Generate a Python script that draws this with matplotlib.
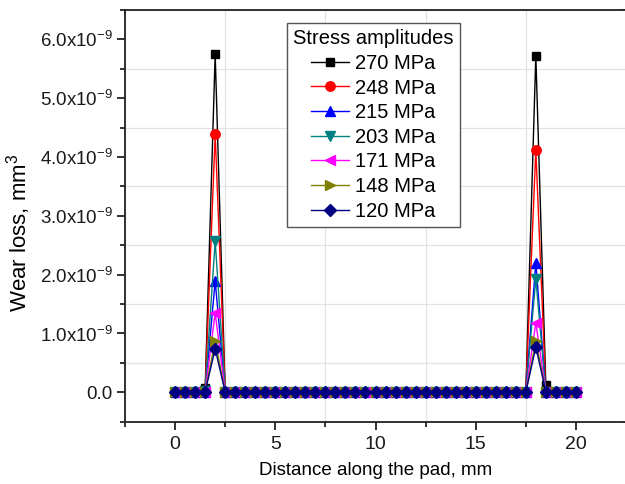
import matplotlib
matplotlib.use("Agg")
import matplotlib.pyplot as plt
from matplotlib.ticker import FixedLocator, FuncFormatter, NullFormatter

plt.rcParams['font.family'] = ['Liberation Sans', 'DejaVu Sans']
plt.rcParams['mathtext.fontset'] = 'custom'
plt.rcParams['mathtext.rm'] = 'Liberation Sans'
plt.rcParams['mathtext.it'] = 'Liberation Sans:italic'
plt.rcParams['mathtext.bf'] = 'Liberation Sans:bold'

# Distance along the pad, mm
distance = [0, 0.5, 1.0, 1.5, 2.0, 2.5, 3.0, 3.5, 4.0, 4.5,
            5.0, 5.5, 6.0, 6.5, 7.0, 7.5, 8.0, 8.5, 9.0, 9.5,
            10.0, 10.5, 11.0, 11.5, 12.0, 12.5, 13.0, 13.5, 14.0, 14.5,
            15.0, 15.5, 16.0, 16.5, 17.0, 17.5, 18.0, 18.5, 19.0, 19.5,
            20.0]

# Wear loss in units of 1e-9 mm^3
wear_270 = [0, 0, 0, 0.07, 5.75, 0, 0, 0, 0, 0,
            0, 0, 0, 0, 0, 0, 0, 0, 0, 0,
            0, 0, 0, 0, 0, 0, 0, 0, 0, 0,
            0, 0, 0, 0, 0, 0, 5.72, 0.12, 0, 0,
            0]
wear_248 = [0, 0, 0, 0.02, 4.39, 0, 0, 0, 0, 0,
            0, 0, 0, 0, 0, 0, 0, 0, 0, 0,
            0, 0, 0, 0, 0, 0, 0, 0, 0, 0,
            0, 0, 0, 0, 0, 0, 4.12, 0.02, 0, 0,
            0]
wear_215 = [0, 0, 0, 0.01, 1.89, 0, 0, 0, 0, 0,
            0, 0, 0, 0, 0, 0, 0, 0, 0, 0,
            0, 0, 0, 0, 0, 0, 0, 0, 0, 0,
            0, 0, 0, 0, 0, 0, 2.20, 0.01, 0, 0,
            0]
wear_203 = [0, 0, 0, 0.03, 2.57, 0, 0, 0, 0, 0,
            0, 0, 0, 0, 0, 0, 0, 0, 0, 0,
            0, 0, 0, 0, 0, 0, 0, 0, 0, 0,
            0, 0, 0, 0, 0, 0, 1.93, 0.01, 0, 0,
            0]
wear_171 = [0, 0, 0, 0.01, 1.35, 0, 0, 0, 0, 0,
            0, 0, 0, 0, 0, 0, 0, 0, 0, 0,
            0, 0, 0, 0, 0, 0, 0, 0, 0, 0,
            0, 0, 0, 0, 0, 0, 1.18, 0.01, 0, 0,
            0]
wear_148 = [0, 0, 0, 0.01, 0.88, 0, 0, 0, 0, 0,
            0, 0, 0, 0, 0, 0, 0, 0, 0, 0,
            0, 0, 0, 0, 0, 0, 0, 0, 0, 0,
            0, 0, 0, 0, 0, 0, 0.87, 0.01, 0, 0,
            0]
wear_120 = [0, 0, 0, 0.01, 0.74, 0, 0, 0, 0, 0,
            0, 0, 0, 0, 0, 0, 0, 0, 0, 0,
            0, 0, 0, 0, 0, 0, 0, 0, 0, 0,
            0, 0, 0, 0, 0, 0, 0.77, 0.01, 0, 0,
            0]

labels = ['270 MPa', '248 MPa', '215 MPa', '203 MPa', '171 MPa', '148 MPa', '120 MPa']
series = [wear_270, wear_248, wear_215, wear_203, wear_171, wear_148, wear_120]
colors = ['#000000', '#ff0000', '#0000ff', '#008080', '#ff00ff', '#808000', '#000080']
markers = ['s', 'o', '^', 'v', '<', '>', 'D']
msizes = [6.0, 6.8, 7.2, 7.2, 7.2, 7.2, 6.4]

x_major = [0, 5, 10, 15, 20]
x_minor = [-2.5, 2.5, 7.5, 12.5, 17.5, 22.5]
y_major = [0, 1, 2, 3, 4, 5, 6]
y_minor = [-0.5, 0.5, 1.5, 2.5, 3.5, 4.5, 5.5, 6.5]

fig = plt.figure(figsize=(6.25, 4.84), dpi=100)
pos = [0.2, 0.1287, 0.8016, 0.8506]
ax = fig.add_axes(pos)

for vals, lab, c, m, ms in zip(series, labels, colors, markers, msizes):
    ax.plot(distance, vals, color=c, marker=m, markersize=ms,
            markeredgecolor=c, linewidth=1.0, label=lab)

XL = (-2.5, 22.5)
YL = (-0.5, 6.5)
ax.set_xlim(*XL)
ax.set_ylim(*YL)
ax.xaxis.set_major_locator(FixedLocator(x_major))
ax.xaxis.set_minor_locator(FixedLocator(x_minor))
ax.yaxis.set_major_locator(FixedLocator(y_major))
ax.yaxis.set_minor_locator(FixedLocator(y_minor))

def yfmt(v, pos):
    if abs(v) < 1e-9:
        return '0.0'
    return '%.1fx10$^{-9}$' % v

ax.yaxis.set_major_formatter(FuncFormatter(yfmt))

ax.grid(False)
ax.grid(True, which='minor', color='#e3e3e3', linewidth=0.9)
ax.set_axisbelow(True)

for s in ax.spines.values():
    s.set_linewidth(1.3)
    s.set_color('#222222')

ax.tick_params(axis='both', which='major', direction='out', length=6, width=1.3,
               labelsize=14, colors='#222222', labelcolor='#1a1a1a')
ax.tick_params(axis='y', which='major', labelsize=13.5, pad=3)
ax.tick_params(axis='both', which='minor', direction='out', length=3.5, width=1.3,
               colors='#222222')
ax.tick_params(axis='x', which='major', pad=4)

# mirrored inward ticks on top and right
axo = fig.add_axes(pos, frameon=False)
axo.set_xlim(*XL)
axo.set_ylim(*YL)
axo.patch.set_visible(False)
axo.xaxis.set_major_locator(FixedLocator(x_major))
axo.xaxis.set_minor_locator(FixedLocator(x_minor))
axo.yaxis.set_major_locator(FixedLocator(y_major))
axo.yaxis.set_minor_locator(FixedLocator(y_minor))
axo.xaxis.set_major_formatter(NullFormatter())
axo.yaxis.set_major_formatter(NullFormatter())
axo.tick_params(axis='both', which='both', direction='in', width=1.3, colors='#222222',
                top=True, right=True, bottom=False, left=False,
                labeltop=False, labelright=False, labelbottom=False, labelleft=False)
axo.tick_params(axis='both', which='major', length=6)
axo.tick_params(axis='both', which='minor', length=3.5)
axo.set_zorder(ax.get_zorder() - 1)

ax.set_xlabel('Distance along the pad, mm', fontsize=13.5, labelpad=7)
ax.set_ylabel('Wear loss, mm$^3$', fontsize=16)
ax.yaxis.set_label_coords(-0.184, 0.46)

leg = ax.legend(loc='upper left', bbox_to_anchor=(0.324, 0.968), borderaxespad=0,
                title='Stress amplitudes', title_fontsize=14.5, fontsize=14.5,
                fancybox=False, framealpha=1, edgecolor='#555555',
                handlelength=1.9, labelspacing=0.28, borderpad=0.3,
                handletextpad=0.3)
leg.get_frame().set_linewidth(1.0)

fig.savefig('out.png', dpi=100)
